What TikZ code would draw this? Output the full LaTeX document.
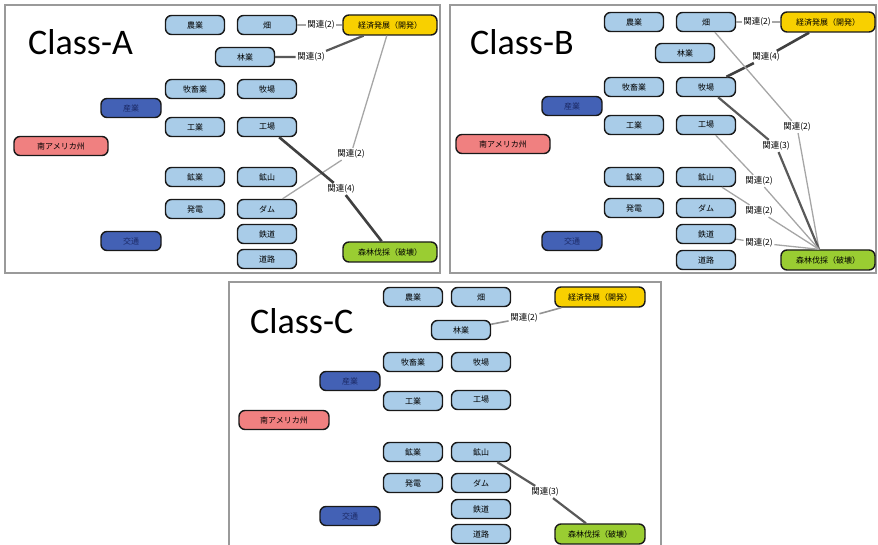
\documentclass[tikz,border=0pt]{standalone}
\usepackage{fontspec}
\newfontfamily\jp{Noto Sans CJK JP}
\newfontfamily\cls{Carlito}
\definecolor{lb}{HTML}{A9CCE8}
\definecolor{db}{HTML}{4361B5}
\definecolor{dbtext}{HTML}{1C2A66}
\definecolor{rd}{HTML}{F08080}
\definecolor{yl}{HTML}{F8D000}
\definecolor{gr}{HTML}{9ACD32}
\definecolor{framec}{HTML}{9A9A9A}
\tikzset{
  base/.style={draw=black!90, line width=1.4pt, rounded corners=6pt, minimum height=19pt, inner sep=0pt, font=\jp\fontsize{8}{9}\selectfont},
  lbox/.style={base, fill=lb, minimum width=59pt},
  dbox/.style={base, fill=db, minimum width=60pt, text=dbtext},
  rbox/.style={base, fill=rd, minimum width=94pt},
  ybox/.style={base, fill=yl, minimum width=94pt, minimum height=20pt},
  gbox/.style={base, fill=gr, minimum width=94pt, minimum height=20pt},
  rel/.style={inner sep=1.5pt, font=\jp\fontsize{8.5}{9}\selectfont},
  wtwo/.style={draw=gray!70, line width=1.3pt},
  wthree/.style={draw=black!65, line width=2.2pt},
  wfour/.style={draw=black!75, line width=2.6pt},
  panel/.style={draw=framec, line width=2pt},
  cl/.style={font=\cls\fontsize{36}{40}\selectfont, inner sep=0pt, anchor=base west},
}
\begin{document}
\begin{tikzpicture}[x=1pt,y=-1pt]
\useasboundingbox (0,0) rectangle (878,545);
% ---------- frames ----------
\draw[panel] (5,5) rectangle (440,273);
\draw[panel] (450,5) rectangle (876,273);
\draw[panel] (229,548) -- (229,282) -- (661,282) -- (661,548);
% ---------- Panel A ----------
\node[cl] (A-title) at (28,55) {Class-A};
\node[lbox] (A-nogyo) at (195,25) {農業};
\node[lbox] (A-hata) at (267,25) {畑};
\node[ybox] (A-keizai) at (390,25) {経済発展（開発）};
\node[lbox] (A-ringyo) at (245,57) {林業};
\node[lbox] (A-bokuchiku) at (195,89) {牧畜業};
\node[lbox] (A-bokujo) at (267,89) {牧場};
\node[dbox] (A-sangyo) at (131,108) {産業};
\node[lbox] (A-kogyo) at (195,127) {工業};
\node[lbox] (A-kojo) at (267,127) {工場};
\node[rbox] (A-sam) at (61,146) {南アメリカ州};
\node[lbox] (A-kougyo) at (195,177) {鉱業};
\node[lbox] (A-kozan) at (267,177) {鉱山};
\node[lbox] (A-hatsuden) at (195,209) {発電};
\node[lbox] (A-damu) at (267,209) {ダム};
\node[dbox] (A-kotsu) at (131,241) {交通};
\node[lbox] (A-tetsudo) at (267,234) {鉄道};
\node[lbox] (A-doro) at (267,259) {道路};
\node[gbox] (A-shinrin) at (390,252) {森林伐採（破壊）};
\node[rel] (A-r1) at (321,25) {関連(2)};
\node[rel] (A-r2) at (311,57) {関連(3)};
\node[rel] (A-r3) at (351,154) {関連(2)};
\node[rel] (A-r4) at (341,189) {関連(4)};
\draw[wtwo] (A-hata) -- (A-r1) -- (A-keizai);
\draw[wthree] (A-ringyo) -- (A-r2) -- (A-keizai);
\draw[wtwo] (A-keizai) -- (A-r3) -- (A-damu);
\draw[wfour] (A-kojo) -- (A-r4) -- (A-shinrin);
% ---------- Panel B ----------
\node[cl] (B-title) at (470,55) {Class-B};
\node[lbox] (B-nogyo) at (634,22) {農業};
\node[lbox] (B-hata) at (706,22) {畑};
\node[ybox] (B-keizai) at (828,22) {経済発展（開発）};
\node[lbox] (B-ringyo) at (685,53) {林業};
\node[lbox] (B-bokuchiku) at (634,87) {牧畜業};
\node[lbox] (B-bokujo) at (706,87) {牧場};
\node[dbox] (B-sangyo) at (572,106) {産業};
\node[lbox] (B-kogyo) at (634,125) {工業};
\node[lbox] (B-kojo) at (706,125) {工場};
\node[rbox] (B-sam) at (503,144) {南アメリカ州};
\node[lbox] (B-kougyo) at (634,177) {鉱業};
\node[lbox] (B-kozan) at (706,177) {鉱山};
\node[lbox] (B-hatsuden) at (634,208) {発電};
\node[lbox] (B-damu) at (706,208) {ダム};
\node[dbox] (B-kotsu) at (572,241) {交通};
\node[lbox] (B-tetsudo) at (706,234) {鉄道};
\node[lbox] (B-doro) at (706,260) {道路};
\node[gbox] (B-shinrin) at (828,260) {森林伐採（破壊）};
\node[rel] (B-r1) at (757,22) {関連(2)};
\node[rel] (B-r2) at (766,57) {関連(4)};
\node[rel] (B-r3) at (797,127) {関連(2)};
\node[rel] (B-r4) at (776,146) {関連(3)};
\node[rel] (B-r5) at (759,181) {関連(2)};
\node[rel] (B-r6) at (759,211) {関連(2)};
\node[rel] (B-r7) at (759,243) {関連(2)};
\draw[wtwo] (B-hata) -- (B-r1) -- (B-keizai);
\draw[wfour] (B-bokujo) -- (B-r2) -- (B-keizai);
\draw[wtwo] (B-hata) -- (B-r3) -- ([xshift=-9pt]B-shinrin.north);
\draw[wthree] (B-bokujo) -- (B-r4) -- ([xshift=-9pt]B-shinrin.north);
\draw[wtwo] (B-kojo) -- (B-r5) -- ([xshift=-9pt]B-shinrin.north);
\draw[wtwo] (B-kozan) -- (B-r6) -- ([xshift=-9pt]B-shinrin.north);
\draw[wtwo] (B-tetsudo) -- (B-r7) -- ([xshift=-9pt]B-shinrin.north);
% ---------- Panel C ----------
\node[cl] (C-title) at (250,333) {Class-C};
\node[lbox] (C-nogyo) at (413,297) {農業};
\node[lbox] (C-hata) at (481,297) {畑};
\node[ybox,minimum width=90pt] (C-keizai) at (600,297) {経済発展（開発）};
\node[lbox] (C-ringyo) at (461,330) {林業};
\node[lbox] (C-bokuchiku) at (413,362) {牧畜業};
\node[lbox] (C-bokujo) at (481,362) {牧場};
\node[dbox] (C-sangyo) at (350,381) {産業};
\node[lbox] (C-kogyo) at (413,401) {工業};
\node[lbox] (C-kojo) at (481,400) {工場};
\node[rbox,minimum width=90pt] (C-sam) at (284,420) {南アメリカ州};
\node[lbox] (C-kougyo) at (413,452) {鉱業};
\node[lbox] (C-kozan) at (481,452) {鉱山};
\node[lbox] (C-hatsuden) at (413,483) {発電};
\node[lbox] (C-damu) at (481,483) {ダム};
\node[dbox] (C-kotsu) at (350,516) {交通};
\node[lbox] (C-tetsudo) at (481,509) {鉄道};
\node[lbox] (C-doro) at (481,534) {道路};
\node[gbox,minimum width=90pt] (C-shinrin) at (600,534) {森林伐採（破壊）};
\node[rel] (C-r1) at (524,318) {関連(2)};
\node[rel] (C-r2) at (545,492) {関連(3)};
\draw[wtwo,draw=gray!85,line width=1.6pt] (C-ringyo) -- (C-r1) -- (C-keizai);
\draw[wthree] (C-kozan) -- (C-r2) -- (C-shinrin);
\end{tikzpicture}
\end{document}
